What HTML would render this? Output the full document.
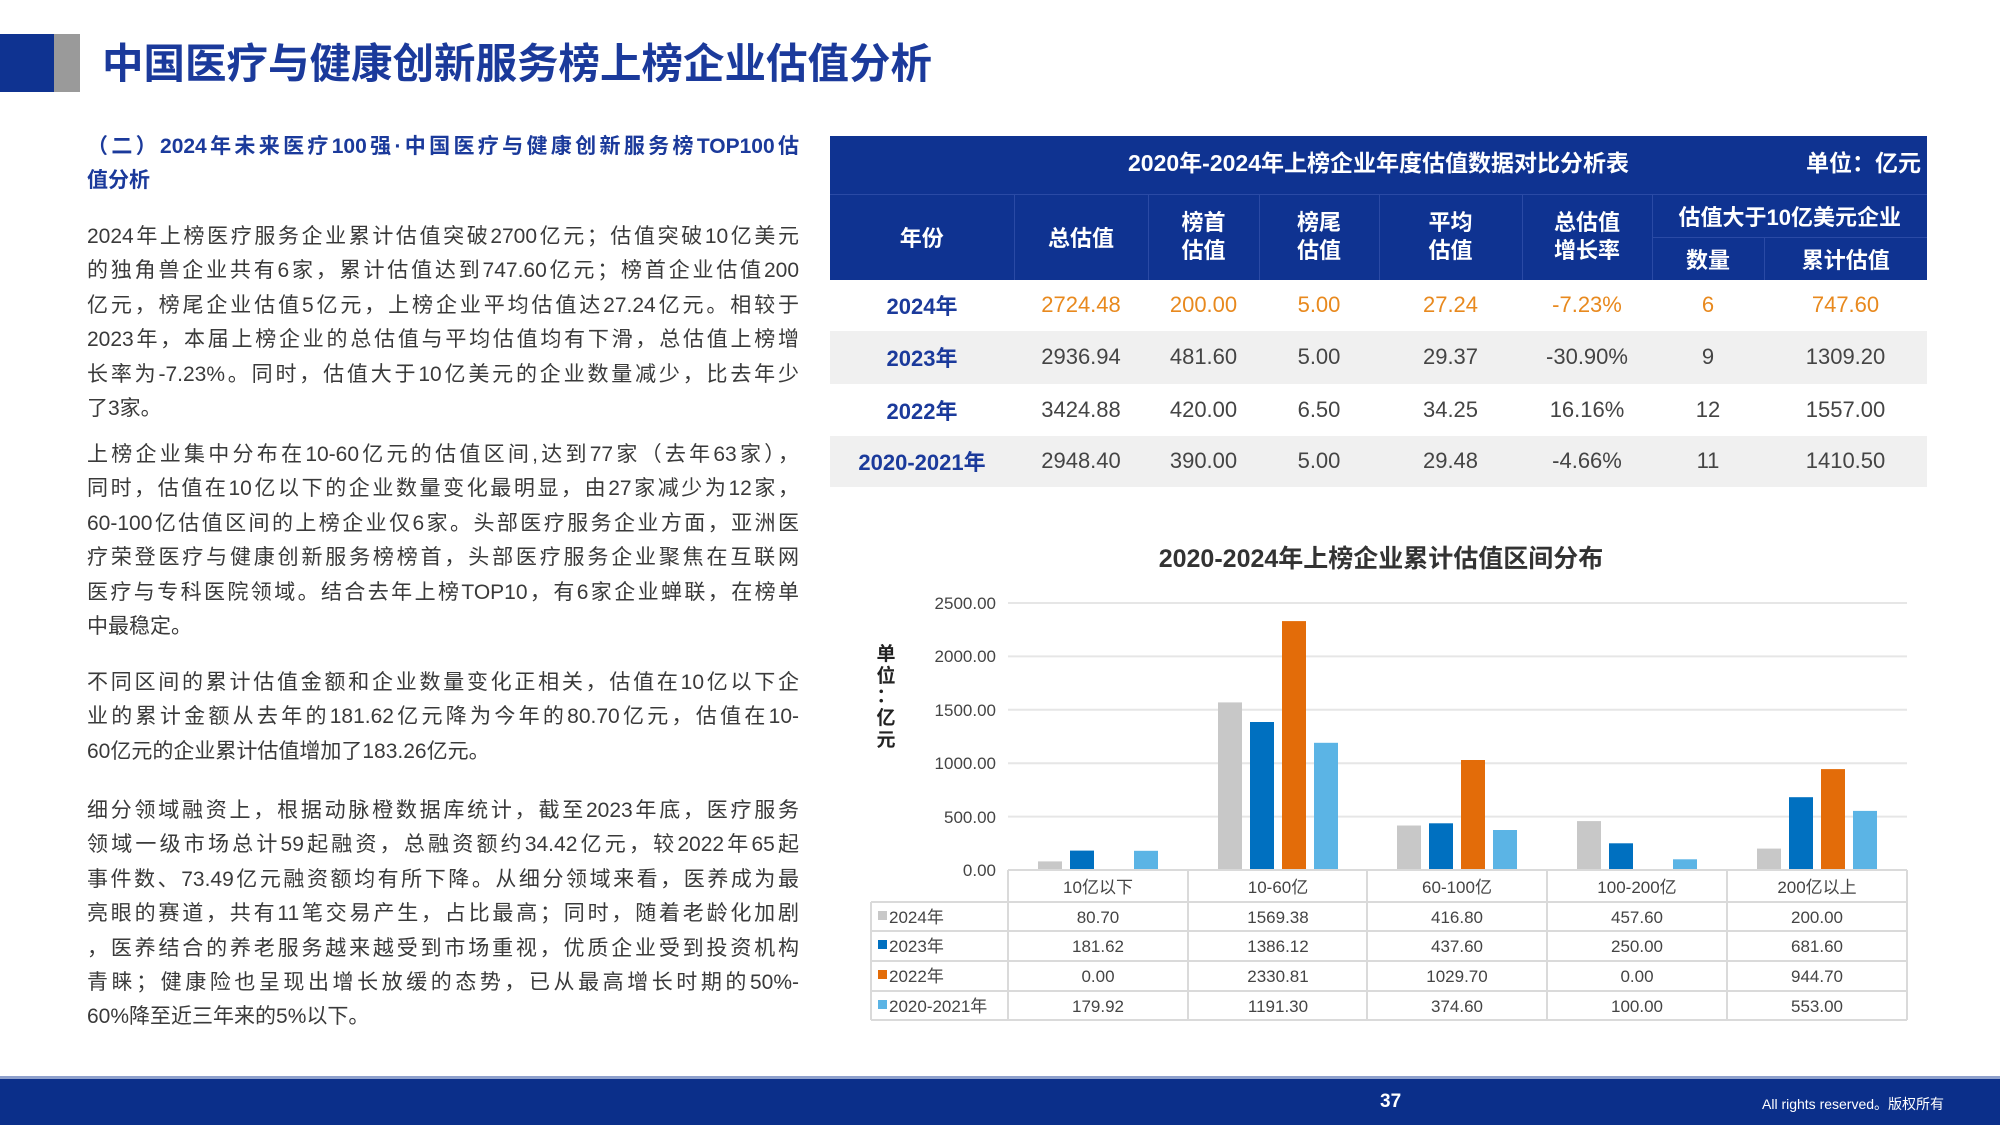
<!DOCTYPE html>
<html><head><meta charset="utf-8">
<style>
*{margin:0;padding:0;box-sizing:border-box}
body{width:2000px;height:1125px;position:relative;background:#fff;font-family:"Liberation Sans","Noto Sans CJK SC",sans-serif;overflow:hidden}
.abs{position:absolute}
.p{position:absolute;left:87px;width:712px;font-size:21px;color:#3a3a3a;line-height:34.4px}
.p div{white-space:nowrap;text-align:justify;text-align-last:justify;height:34.4px}
.p div.l{text-align-last:left}
table{border-collapse:collapse}
.tb td{text-align:center;font-size:22px;color:#444}
</style></head><body>
<div class="abs" style="left:0;top:34px;width:54px;height:58px;background:#0f3391"></div>
<div class="abs" style="left:54px;top:34px;width:26px;height:58px;background:#9a9a9a"></div>
<div class="abs" style="left:102px;top:36px;font-size:41.5px;font-weight:bold;color:#1b3a9b;line-height:56px">中国医疗与健康创新服务榜上榜企业估值分析</div>

<div class="p" style="top:130px;color:#1b3a9b;font-weight:bold;font-size:21px">
<div>（二）2024年未来医疗100强·中国医疗与健康创新服务榜TOP100估</div><div class="l">值分析</div></div>
<div class="p" style="top:220px">
<div>2024年上榜医疗服务企业累计估值突破2700亿元；估值突破10亿美元</div>
<div>的独角兽企业共有6家，累计估值达到747.60亿元；榜首企业估值200</div>
<div>亿元，榜尾企业估值5亿元，上榜企业平均估值达27.24亿元。相较于</div>
<div>2023年，本届上榜企业的总估值与平均估值均有下滑，总估值上榜增</div>
<div>长率为-7.23%。同时，估值大于10亿美元的企业数量减少，比去年少</div>
<div class="l">了3家。</div></div>
<div class="p" style="top:438px">
<div>上榜企业集中分布在10-60亿元的估值区间,达到77家（去年63家），</div>
<div>同时，估值在10亿以下的企业数量变化最明显，由27家减少为12家，</div>
<div>60-100亿估值区间的上榜企业仅6家。头部医疗服务企业方面，亚洲医</div>
<div>疗荣登医疗与健康创新服务榜榜首，头部医疗服务企业聚焦在互联网</div>
<div>医疗与专科医院领域。结合去年上榜TOP10，有6家企业蝉联，在榜单</div>
<div class="l">中最稳定。</div></div>
<div class="p" style="top:666px">
<div>不同区间的累计估值金额和企业数量变化正相关，估值在10亿以下企</div>
<div>业的累计金额从去年的181.62亿元降为今年的80.70亿元，估值在10-</div>
<div class="l">60亿元的企业累计估值增加了183.26亿元。</div></div>
<div class="p" style="top:794px">
<div>细分领域融资上，根据动脉橙数据库统计，截至2023年底，医疗服务</div>
<div>领域一级市场总计59起融资，总融资额约34.42亿元，较2022年65起</div>
<div>事件数、73.49亿元融资额均有所下降。从细分领域来看，医养成为最</div>
<div>亮眼的赛道，共有11笔交易产生，占比最高；同时，随着老龄化加剧</div>
<div>，医养结合的养老服务越来越受到市场重视，优质企业受到投资机构</div>
<div>青睐；健康险也呈现出增长放缓的态势，已从最高增长时期的50%-</div>
<div class="l">60%降至近三年来的5%以下。</div></div>

<!-- table -->
<div class="abs" style="left:830px;top:136px;width:1097px;height:58px;background:#0f3391;color:#fff;font-weight:bold;font-size:23px">
<div class="abs" style="left:0;width:1097px;top:8px;text-align:center">2020年-2024年上榜企业年度估值数据对比分析表</div>
<div class="abs" style="right:6px;top:8px">单位：亿元</div></div>
<table class="abs tb" style="left:830px;top:194px;width:1097px">
<colgroup><col style="width:184px"><col style="width:134px"><col style="width:111px"><col style="width:120px"><col style="width:143px"><col style="width:130px"><col style="width:112px"><col style="width:163px"></colgroup>
<tr style="height:43px;background:#0f3391;color:#fff;font-weight:bold">
<td rowspan="2" style="color:#fff;border-right:1px solid #2a4aa5;border-top:1px solid #2a4aa5">年份</td>
<td rowspan="2" style="color:#fff;border-right:1px solid #2a4aa5;border-top:1px solid #2a4aa5">总估值</td>
<td rowspan="2" style="color:#fff;line-height:28px;border-right:1px solid #2a4aa5;border-top:1px solid #2a4aa5">榜首<br>估值</td>
<td rowspan="2" style="color:#fff;line-height:28px;border-right:1px solid #2a4aa5;border-top:1px solid #2a4aa5">榜尾<br>估值</td>
<td rowspan="2" style="color:#fff;line-height:28px;border-right:1px solid #2a4aa5;border-top:1px solid #2a4aa5">平均<br>估值</td>
<td rowspan="2" style="color:#fff;line-height:28px;border-right:1px solid #2a4aa5;border-top:1px solid #2a4aa5">总估值<br>增长率</td>
<td colspan="2" style="color:#fff;border-bottom:1px solid #2a4aa5;border-top:1px solid #2a4aa5">估值大于10亿美元企业</td></tr>
<tr style="height:42px;background:#0f3391;font-weight:bold"><td style="color:#fff;border-right:1px solid #2a4aa5">数量</td><td style="color:#fff">累计估值</td></tr>
<tr style="height:51px;color:#e8891e"><td style="color:#1b3a9b;font-weight:bold">2024年</td><td style="color:#e8891e">2724.48</td><td style="color:#e8891e">200.00</td><td style="color:#e8891e">5.00</td><td style="color:#e8891e">27.24</td><td style="color:#e8891e">-7.23%</td><td style="color:#e8891e">6</td><td style="color:#e8891e">747.60</td></tr>
<tr style="height:53px;background:#f0f0f0"><td style="color:#1b3a9b;font-weight:bold">2023年</td><td>2936.94</td><td>481.60</td><td>5.00</td><td>29.37</td><td>-30.90%</td><td>9</td><td>1309.20</td></tr>
<tr style="height:52px"><td style="color:#1b3a9b;font-weight:bold">2022年</td><td>3424.88</td><td>420.00</td><td>6.50</td><td>34.25</td><td>16.16%</td><td>12</td><td>1557.00</td></tr>
<tr style="height:51px;background:#f0f0f0"><td style="color:#1b3a9b;font-weight:bold">2020-2021年</td><td>2948.40</td><td>390.00</td><td>5.00</td><td>29.48</td><td>-4.66%</td><td>11</td><td>1410.50</td></tr>
</table>

<!-- chart -->
<svg class="abs" style="left:0;top:0" width="2000" height="1125" font-family="Liberation Sans, Noto Sans CJK SC, sans-serif">
<text x="1381" y="567" text-anchor="middle" font-size="25" font-weight="bold" fill="#333">2020-2024年上榜企业累计估值区间分布</text>
<g stroke="#e6e6e6" stroke-width="2">
<line x1="1008" x2="1907" y1="603" y2="603"/><line x1="1008" x2="1907" y1="656.4" y2="656.4"/><line x1="1008" x2="1907" y1="709.8" y2="709.8"/><line x1="1008" x2="1907" y1="763.2" y2="763.2"/><line x1="1008" x2="1907" y1="816.6" y2="816.6"/></g>
<g font-size="17" fill="#444" text-anchor="end">
<text x="996" y="609">2500.00</text><text x="996" y="662">2000.00</text><text x="996" y="716">1500.00</text><text x="996" y="769">1000.00</text><text x="996" y="823">500.00</text><text x="996" y="876">0.00</text></g>
<g font-size="19" fill="#222" font-weight="bold" text-anchor="middle">
<text x="886" y="660">单</text><text x="886" y="682">位</text><text x="886" y="702">：</text><text x="886" y="724">亿</text><text x="886" y="746">元</text></g>
<g>
<rect x="1038" y="861.4" width="24" height="8.6" fill="#c8c8c8"/><rect x="1070" y="850.6" width="24" height="19.4" fill="#0070c0"/><rect x="1134" y="850.8" width="24" height="19.2" fill="#5bb4e5"/>
<rect x="1218" y="702.4" width="24" height="167.6" fill="#c8c8c8"/><rect x="1250" y="722" width="24" height="148" fill="#0070c0"/><rect x="1282" y="621.1" width="24" height="248.9" fill="#e36c09"/><rect x="1314" y="742.8" width="24" height="127.2" fill="#5bb4e5"/>
<rect x="1397" y="825.5" width="24" height="44.5" fill="#c8c8c8"/><rect x="1429" y="823.3" width="24" height="46.7" fill="#0070c0"/><rect x="1461" y="760" width="24" height="110" fill="#e36c09"/><rect x="1493" y="830" width="24" height="40" fill="#5bb4e5"/>
<rect x="1577" y="821.1" width="24" height="48.9" fill="#c8c8c8"/><rect x="1609" y="843.3" width="24" height="26.7" fill="#0070c0"/><rect x="1673" y="859.3" width="24" height="10.7" fill="#5bb4e5"/>
<rect x="1757" y="848.6" width="24" height="21.4" fill="#c8c8c8"/><rect x="1789" y="797.2" width="24" height="72.8" fill="#0070c0"/><rect x="1821" y="769.1" width="24" height="100.9" fill="#e36c09"/><rect x="1853" y="810.9" width="24" height="59.1" fill="#5bb4e5"/>
</g>
<g stroke="#dadada" stroke-width="2" fill="none">
<line x1="1008" x2="1907" y1="870" y2="870"/>
<line x1="871" x2="1907" y1="902" y2="902"/><line x1="871" x2="1907" y1="931" y2="931"/><line x1="871" x2="1907" y1="961" y2="961"/><line x1="871" x2="1907" y1="991" y2="991"/><line x1="871" x2="1907" y1="1020" y2="1020"/>
<line x1="871" x2="871" y1="902" y2="1020"/>
<line x1="1008" x2="1008" y1="870" y2="1020"/><line x1="1188" x2="1188" y1="870" y2="1020"/><line x1="1367" x2="1367" y1="870" y2="1020"/><line x1="1547" x2="1547" y1="870" y2="1020"/><line x1="1727" x2="1727" y1="870" y2="1020"/><line x1="1907" x2="1907" y1="870" y2="1020"/>
</g>
<g font-size="17" fill="#444" text-anchor="middle">
<text x="1098" y="893">10亿以下</text><text x="1278" y="893">10-60亿</text><text x="1457" y="893">60-100亿</text><text x="1637" y="893">100-200亿</text><text x="1817" y="893">200亿以上</text>
<text x="1098" y="923">80.70</text><text x="1278" y="923">1569.38</text><text x="1457" y="923">416.80</text><text x="1637" y="923">457.60</text><text x="1817" y="923">200.00</text>
<text x="1098" y="952">181.62</text><text x="1278" y="952">1386.12</text><text x="1457" y="952">437.60</text><text x="1637" y="952">250.00</text><text x="1817" y="952">681.60</text>
<text x="1098" y="982">0.00</text><text x="1278" y="982">2330.81</text><text x="1457" y="982">1029.70</text><text x="1637" y="982">0.00</text><text x="1817" y="982">944.70</text>
<text x="1098" y="1012">179.92</text><text x="1278" y="1012">1191.30</text><text x="1457" y="1012">374.60</text><text x="1637" y="1012">100.00</text><text x="1817" y="1012">553.00</text>
</g>
<g font-size="17" fill="#444">
<rect x="878" y="911" width="9" height="9" fill="#c8c8c8"/><text x="889" y="923">2024年</text>
<rect x="878" y="940" width="9" height="9" fill="#0070c0"/><text x="889" y="952">2023年</text>
<rect x="878" y="970" width="9" height="9" fill="#e36c09"/><text x="889" y="982">2022年</text>
<rect x="878" y="1000" width="9" height="9" fill="#5bb4e5"/><text x="889" y="1012">2020-2021年</text>
</g>
</svg>

<div class="abs" style="left:0;top:1076px;width:2000px;height:3px;background:#8ea0cc"></div>
<div class="abs" style="left:0;top:1079px;width:2000px;height:46px;background:#0b2f8a"></div>
<div class="abs" style="left:1380px;top:1091px;font-size:19px;font-weight:bold;color:#fff">37</div>
<div class="abs" style="left:1762px;top:1094px;font-size:14px;color:#fff">All rights reserved。版权所有</div>
</body></html>
